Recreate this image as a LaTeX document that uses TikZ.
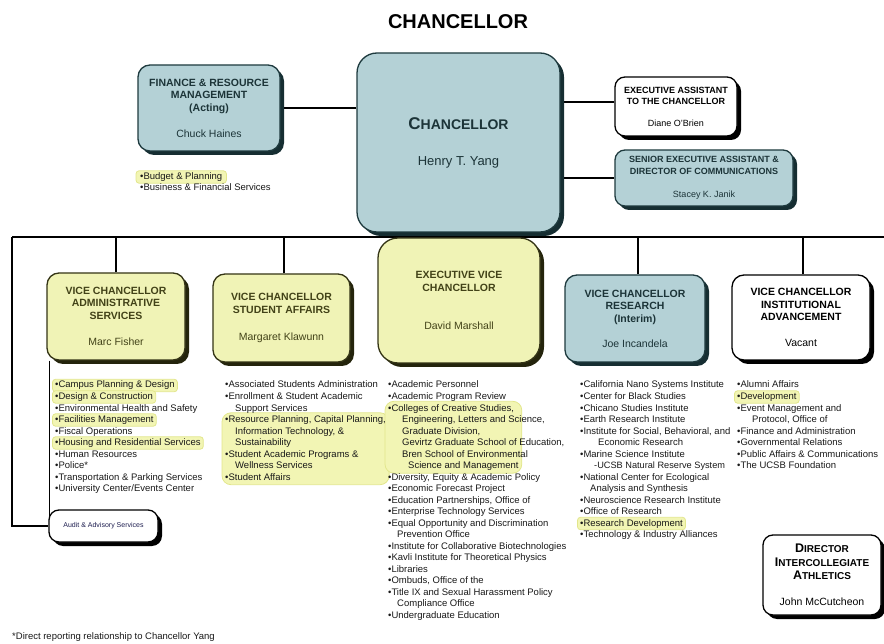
\documentclass[tikz,border=0pt]{standalone}
\usepackage{fontspec}
\setmainfont{Liberation Sans}
\usetikzlibrary{shadows,fit,backgrounds,calc}

\definecolor{bluefill}{RGB}{180,209,214}
\definecolor{blueline}{RGB}{30,58,62}
\definecolor{blueshadow}{RGB}{22,46,50}
\definecolor{bluetext}{RGB}{28,52,56}
\definecolor{yelfill}{RGB}{240,243,182}
\definecolor{yelline}{RGB}{52,52,22}
\definecolor{yelshadow}{RGB}{36,36,12}
\definecolor{yeltext}{RGB}{66,66,24}
\definecolor{hlfill}{RGB}{242,245,180}
\definecolor{hlline}{RGB}{226,230,140}
\definecolor{listtext}{RGB}{25,25,25}
\definecolor{audittext}{RGB}{30,30,80}

\newcommand\hdr[1]{\textbf{#1}}

\begin{document}
\begin{tikzpicture}[x=1pt,y=-1pt,
  conn/.style={line width=1.6pt, draw=black},
  box/.style={rounded corners=12pt, inner sep=0pt, align=center, line width=1.3pt,
    font=\fontsize{10.5}{12.5}\selectfont},
  bluebox/.style={box, fill=bluefill, draw=blueline, text=bluetext,
    drop shadow={shadow xshift=4pt, shadow yshift=-4pt, fill=blueshadow, opacity=1}},
  yelbox/.style={box, fill=yelfill, draw=yelline, text=yeltext,
    drop shadow={shadow xshift=4pt, shadow yshift=-4pt, fill=yelshadow, opacity=1}},
  whitebox/.style={box, fill=white, draw=black, text=black,
    drop shadow={shadow xshift=4pt, shadow yshift=-4pt, fill=black, opacity=1}},
  smallbox/.style={font=\fontsize{9}{11.5}\selectfont, rounded corners=10pt},
  item/.style={anchor=west, inner sep=0pt, text height=7pt, text depth=2pt,
    font=\fontsize{9.5}{11.5}\selectfont, text=listtext},
  hl/.style={fill=hlfill, draw=hlline, line width=0.8pt, rounded corners=3pt,
    inner xsep=2.5pt, inner ysep=1.5pt},
  hlblock/.style={hl, rounded corners=9pt, inner xsep=3pt, inner ysep=2.5pt},
  titletext/.style={font=\fontsize{20}{24}\selectfont\bfseries, inner sep=0pt}
]
\useasboundingbox (0,0) rectangle (884,644);

% heading
\node[titletext] (title) at (458,22) {CHANCELLOR};

% top row
\node[bluebox, rounded corners=20pt, minimum width=203pt, minimum height=179pt,
  font=\fontsize{14}{14}\selectfont] (chan) at (458.5,142.5)
  {\hdr{{\fontsize{17}{14}\selectfont C}HANCELLOR}\\[22pt]{\fontsize{13}{14}\selectfont Henry T. Yang}};

\node[bluebox, minimum width=142pt, minimum height=86pt] (fin) at (209,108)
  {\hdr{FINANCE \& RESOURCE}\\\hdr{MANAGEMENT}\\\hdr{(Acting)}\\[13.5pt]Chuck Haines};

\node[whitebox, smallbox, minimum width=122pt, minimum height=59pt] (eas) at (676,106.5)
  {\hdr{EXECUTIVE ASSISTANT}\\\hdr{TO THE CHANCELLOR}\\[10pt]Diane O'Brien};

\node[bluebox, smallbox, minimum width=178pt, minimum height=56pt] (sea) at (704,178)
  {\hdr{SENIOR EXECUTIVE ASSISTANT \&}\\\hdr{DIRECTOR OF COMMUNICATIONS}\\[11.5pt]Stacey K. Janik};

% vice chancellors
\node[yelbox, minimum width=138pt, minimum height=87pt] (adm) at (116,316.5)
  {\hdr{VICE CHANCELLOR}\\\hdr{ADMINISTRATIVE}\\\hdr{SERVICES}\\[13.8pt]Marc Fisher};

\node[yelbox, minimum width=137pt, minimum height=88pt] (stu) at (281.5,318)
  {\hdr{VICE CHANCELLOR}\\\hdr{STUDENT AFFAIRS}\\[14.5pt]Margaret Klawunn};

\node[yelbox, rounded corners=20pt, minimum width=162pt, minimum height=125pt] (evc) at (459,300.5)
  {\hdr{EXECUTIVE VICE}\\\hdr{CHANCELLOR}\\[25.8pt]David Marshall};

\node[bluebox, minimum width=140pt, minimum height=87pt] (res) at (635,318.5)
  {\hdr{VICE CHANCELLOR}\\\hdr{RESEARCH}\\\hdr{(Interim)}\\[12.5pt]Joe Incandela};

\node[whitebox, minimum width=138pt, minimum height=85pt] (ia) at (801,317.5)
  {\hdr{VICE CHANCELLOR}\\\hdr{INSTITUTIONAL}\\\hdr{ADVANCEMENT}\\[13pt]Vacant};

\node[whitebox, rounded corners=10pt, minimum width=118pt, minimum height=80pt,
  font=\fontsize{10}{13.5}\selectfont] (dir) at (822,575)
  {\hdr{{\fontsize{12.5}{13.5}\selectfont D}IRECTOR}\\\hdr{{\fontsize{12.5}{13.5}\selectfont I}NTERCOLLEGIATE}\\\hdr{{\fontsize{12.5}{13.5}\selectfont A}THLETICS}\\[12.5pt]{\fontsize{10.5}{13.5}\selectfont John McCutcheon}};

\node[whitebox, rounded corners=10pt, minimum width=109pt, minimum height=32pt,
  font=\fontsize{7}{8}\selectfont, text=audittext] (aud) at (103.5,526)
  {Audit \& Advisory Services};

% unit lists
\node[item] (lf1) at (140,177) {•Budget \& Planning};
\node[item] (lf2) at (140,188.5) {•Business \& Financial Services};

\foreach [count=\i] \txt in {
  {•Campus Planning \& Design},
  {•Design \& Construction},
  {•Environmental Health and Safety},
  {•Facilities Management},
  {•Fiscal Operations},
  {•Housing and Residential Services},
  {•Human Resources},
  {•Police*},
  {•Transportation \& Parking Services},
  {•University Center/Events Center}}
  {\node[item] (la\i) at (55,{385.5+11.5*(\i-1)}) {\txt};}

\foreach [count=\i] \txt in {
  {•Associated Students Administration},
  {•Enrollment \& Student Academic},
  {\hspace*{10pt}Support Services},
  {•Resource Planning, Capital Planning,},
  {\hspace*{10pt}Information Technology, \&},
  {\hspace*{10pt}Sustainability},
  {•Student Academic Programs \&},
  {\hspace*{10pt}Wellness Services},
  {•Student Affairs}}
  {\node[item] (ls\i) at (225,{385.5+11.5*(\i-1)}) {\txt};}

\foreach [count=\i] \txt in {
  {•Academic Personnel},
  {•Academic Program Review},
  {•Colleges of Creative Studies,},
  {\hspace*{14pt}Engineering, Letters and Science,},
  {\hspace*{14pt}Graduate Division,},
  {\hspace*{14pt}Gevirtz Graduate School of Education,},
  {\hspace*{14pt}Bren School of Environmental},
  {\hspace*{20pt}Science and Management},
  {•Diversity, Equity \& Academic Policy},
  {•Economic Forecast Project},
  {•Education Partnerships, Office of},
  {•Enterprise Technology Services},
  {•Equal Opportunity and Discrimination},
  {\hspace*{9pt}Prevention Office},
  {•Institute for Collaborative Biotechnologies},
  {•Kavli Institute for Theoretical Physics},
  {•Libraries},
  {•Ombuds, Office of the},
  {•Title IX and Sexual Harassment Policy},
  {\hspace*{9pt}Compliance Office},
  {•Undergraduate Education}}
  {\node[item] (le\i) at (388,{385.5+11.5*(\i-1)}) {\txt};}

\foreach [count=\i] \txt in {
  {•California Nano Systems Institute},
  {•Center for Black Studies},
  {•Chicano Studies Institute},
  {•Earth Research Institute},
  {•Institute for Social, Behavioral, and},
  {\hspace*{18pt}Economic Research},
  {•Marine Science Institute},
  {\hspace*{14pt}{\fontsize{9.2}{11.5}\selectfont -UCSB Natural Reserve System}},
  {•National Center for Ecological},
  {\hspace*{10pt}Analysis and Synthesis},
  {•Neuroscience Research Institute},
  {•Office of Research},
  {•Research Development},
  {•Technology \& Industry Alliances}}
  {\node[item] (lr\i) at (580,{385.5+11.5*(\i-1)}) {\txt};}

\foreach [count=\i] \txt in {
  {•Alumni Affairs},
  {•Development},
  {•Event Management and},
  {\hspace*{15pt}Protocol, Office of},
  {•Finance and Administration},
  {•Governmental Relations},
  {•Public Affairs \& Communications},
  {•The UCSB Foundation}}
  {\node[item] (li\i) at (737,{385.5+11.5*(\i-1)}) {\txt};}

\node[item] (note) at (12,637) {*Direct reporting relationship to Chancellor Yang};

\begin{scope}[on background layer]
  % highlighted units
  \node[hl, inner xsep=4pt, fit=(lf1)] (hf1) {};
  \node[hl, fit=(la1)] (ha1) {};
  \node[hl, fit=(la2)] (ha2) {};
  \node[hl, fit=(la4)] (ha4) {};
  \node[hl, fit=(la6)] (ha6) {};
  \node[hlblock, fit=(ls4)(ls9)] (hs) {};
  \node[hlblock, fit=(le3)(le8)] (he) {};
  \node[hl, fit=(lr13)] (hr13) {};
  \node[hl, fit=(li2)] (hi2) {};

  % reporting lines
  \coordinate (barL) at (12,237);
  \coordinate (barR) at (884,237);
  \draw[conn] (barL) -- (barR);
  \draw[conn] (chan.south) -- (chan.south |- barL);
  \draw[conn] (fin.east) -- (fin.east -| chan.west);
  \draw[conn] ([yshift=4.5pt]eas.west) -- ([yshift=4.5pt]eas.west -| chan.east);
  \draw[conn] (sea.west) -- (sea.west -| chan.east);
  \draw[conn] (adm.north) -- (adm.north |- barL);
  \draw[conn] ([xshift=2.5pt]stu.north) -- ([xshift=2.5pt]stu.north |- barL);
  \draw[conn] (evc.north) -- (evc.north |- barL);
  \draw[conn] ([xshift=3pt]res.north) -- ([xshift=3pt]res.north |- barL);
  \draw[conn] ([xshift=2pt]ia.north) -- ([xshift=2pt]ia.north |- barL);
  \draw[conn] (barL) |- (aud.west);
  \draw[conn] ([xshift=3pt]adm.south west) -- ([xshift=3pt]adm.south west |- aud.west);
\end{scope}
\end{tikzpicture}
\end{document}
